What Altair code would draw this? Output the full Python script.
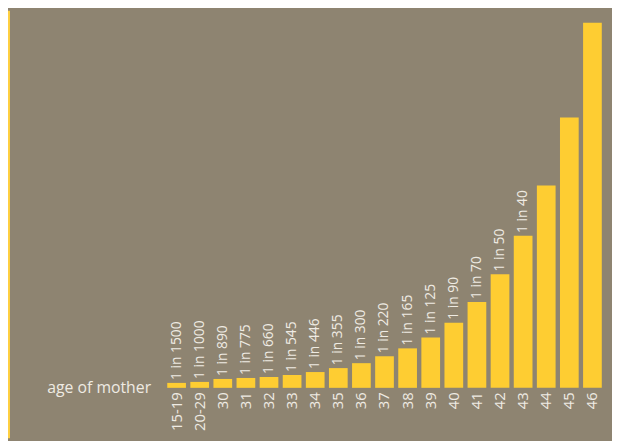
import altair as alt
import pandas as pd

ages = ["15-19", "20-29", "30", "31", "32", "33", "34", "35", "36", "37",
        "38", "39", "40", "41", "42", "43", "44", "45", "46"]
heights = [5, 6, 9, 10, 11, 13, 16, 20, 25, 32, 40, 51, 66, 87, 115, 154, 205, 274, 370]
labels = ["1 in 1500", "1 in 1000", "1 in 890", "1 in 775", "1 in 660", "1 in 545",
          "1 in 446", "1 in 355", "1 in 300", "1 in 220", "1 in 165", "1 in 125",
          "1 in 90", "1 in 70", "1 in 50", "1 in 40", "", "", ""]

df = pd.DataFrame({"age": ages, "risk": heights, "label": labels})

BG = "#8e8471"
BAR = "#fecd32"
TXT = "#efebe3"
FONT = "Open Sans"

x = alt.X("age:N", sort=None, title=None,
          scale=alt.Scale(paddingInner=0.19, paddingOuter=0.1),
          axis=alt.Axis(labelAngle=-90, ticks=False, domain=False, labelPadding=4,
                        labelColor=TXT, labelFont=FONT, labelFontSize=15))
y = alt.Y("risk:Q", title=None, scale=alt.Scale(domain=[0, 370], nice=False), axis=None)

base = alt.Chart(df)

bars = base.mark_bar(color=BAR).encode(x=x, y=y)

texts = base.mark_text(angle=270, align="left", baseline="middle", yOffset=-3,
                       color=TXT, font=FONT, fontSize=14).encode(
    x=alt.X("age:N", sort=None), y="risk:Q", text="label:N")

axis_title = alt.Chart(pd.DataFrame({"t": ["age of mother"]})).mark_text(
    align="right", baseline="middle", color=TXT, font=FONT, fontSize=16).encode(
    x=alt.value(-14), y=alt.value(370), text="t:N")

border = alt.Chart(pd.DataFrame({"a": [0]})).mark_rect(color="#ffd041").encode(
    x=alt.value(-159), x2=alt.value(-157), y=alt.value(-12), y2=alt.value(421))

chart = alt.layer(border, bars, texts, axis_title).properties(
    width=445, height=370,
    autosize=alt.AutoSizeParams(type="none"),
    padding={"left": 159, "top": 12, "right": 8, "bottom": 51},
    background=BG,
).configure_view(stroke=None).configure_axis(grid=False)

chart.save("out.html", embed_options={"renderer": "svg", "actions": False})
